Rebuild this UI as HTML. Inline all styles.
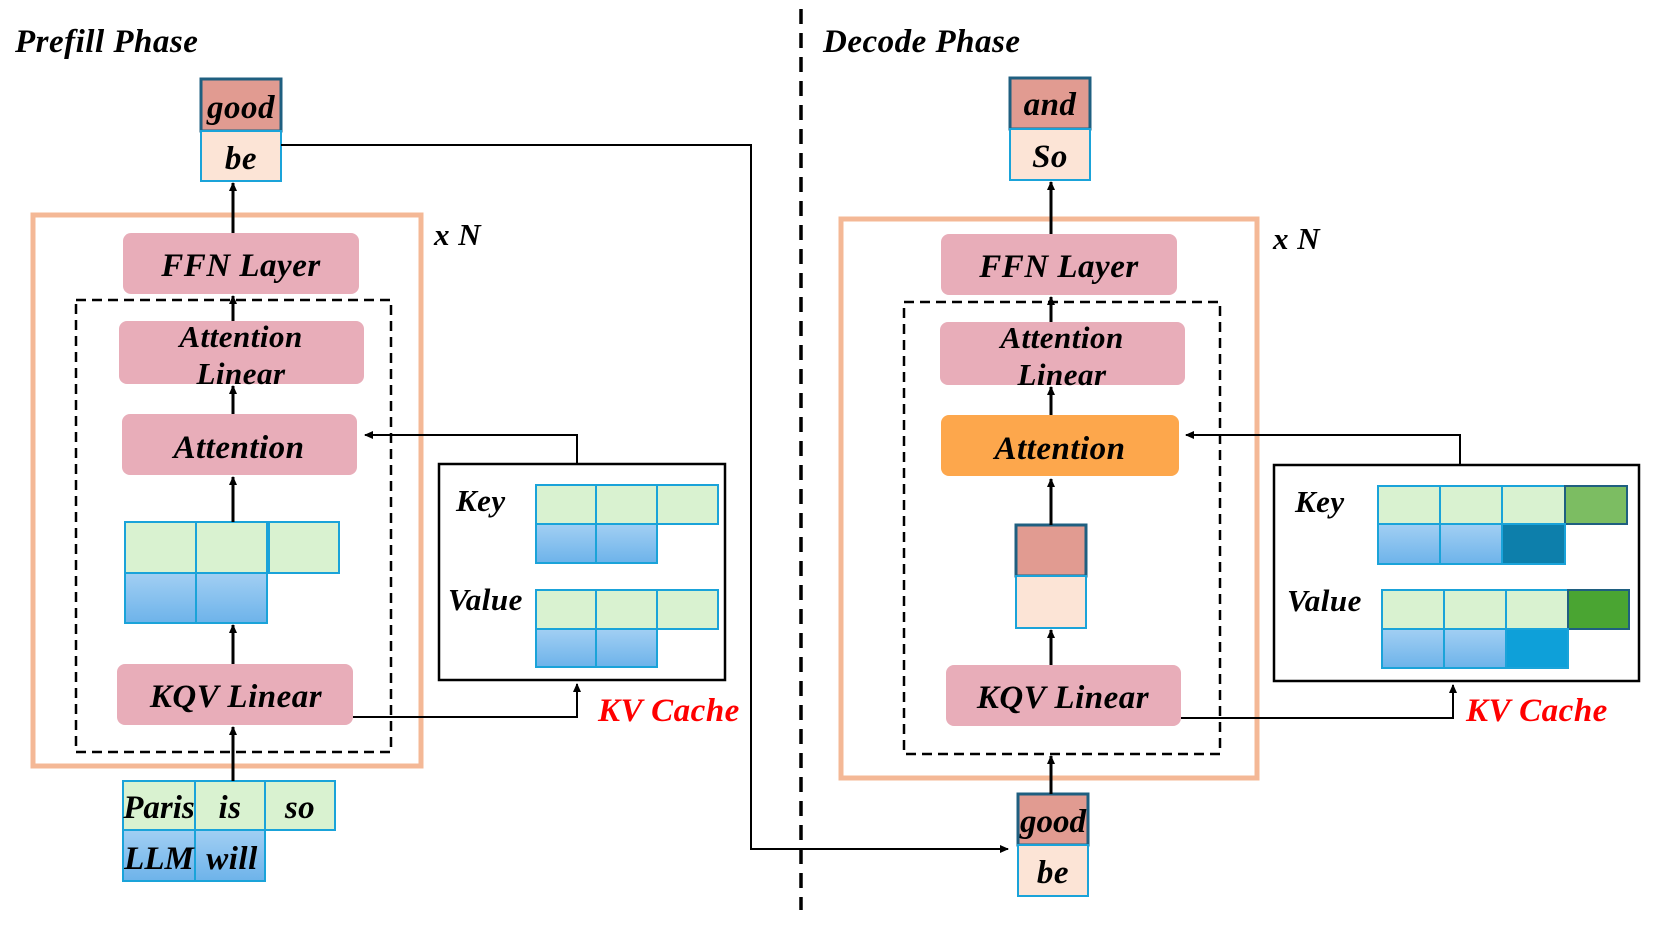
<!DOCTYPE html>
<html><head><meta charset="utf-8"><style>
html,body{margin:0;padding:0;background:#fff;}
svg{display:block;}
text{font-family:"Liberation Serif",serif;font-weight:bold;font-style:italic;fill:#000;letter-spacing:0.5px;}
</style></head><body>
<svg width="1661" height="934" viewBox="0 0 1661 934" xmlns="http://www.w3.org/2000/svg">
<defs>
<linearGradient id="bl" x1="0" y1="0" x2="0" y2="1"><stop offset="0" stop-color="#a2cff3"/><stop offset="1" stop-color="#6db3ea"/></linearGradient>
<marker id="ar" markerWidth="10" markerHeight="10" refX="8" refY="5" orient="auto" markerUnits="userSpaceOnUse"><path d="M0,1 L9,5 L0,9 Z" fill="#000"/></marker>
</defs>
<g stroke="#1aa3d9" stroke-width="2">
<rect x="201" y="79" width="80" height="52" fill="#e19b91" stroke="#1f5f80" stroke-width="3"/>
<rect x="201" y="131" width="80" height="50" fill="#fce4d6"/>
</g>
<text x="241" y="118" font-size="33" text-anchor="middle">good</text>
<text x="241" y="169" font-size="33" text-anchor="middle">be</text>
<text x="15" y="52" font-size="33">Prefill Phase</text>
<text x="823" y="52" font-size="33">Decode Phase</text>
<line x1="801" y1="9" x2="801" y2="910" stroke="#000" stroke-width="3.5" stroke-dasharray="15,9"/>

<!-- LEFT -->
<rect x="33" y="215" width="388" height="551" fill="none" stroke="#f4b896" stroke-width="5"/>
<text x="434" y="245" font-size="31">x N</text>
<rect x="76" y="300" width="315" height="452" fill="none" stroke="#000" stroke-width="2.5" stroke-dasharray="10,6"/>
<rect x="123" y="233" width="236" height="61" rx="8" fill="#e8adb9"/>
<text x="241" y="276" font-size="33" text-anchor="middle">FFN Layer</text>
<rect x="119" y="321" width="245" height="63" rx="8" fill="#e8adb9"/>
<text x="241" y="347" font-size="31" text-anchor="middle">Attention</text>
<text x="241" y="384" font-size="31" text-anchor="middle">Linear</text>
<rect x="122" y="414" width="235" height="61" rx="8" fill="#e8adb9"/>
<text x="239" y="458" font-size="33" text-anchor="middle">Attention</text>
<rect x="117" y="664" width="236" height="61" rx="8" fill="#e8adb9"/>
<text x="236" y="707" font-size="33" text-anchor="middle">KQV Linear</text>
<g stroke="#1aa3d9" stroke-width="2">
<rect x="125" y="522" width="71" height="51" fill="#d9f2d0"/>
<rect x="196" y="522" width="71" height="51" fill="#d9f2d0"/>
<rect x="269" y="522" width="70" height="51" fill="#d9f2d0"/>
<rect x="125" y="573" width="71" height="50" fill="url(#bl)"/>
<rect x="196" y="573" width="71" height="50" fill="url(#bl)"/>
<rect x="123" y="781" width="72" height="49" fill="#d9f2d0"/>
<rect x="195" y="781" width="70" height="49" fill="#d9f2d0"/>
<rect x="265" y="781" width="70" height="49" fill="#d9f2d0"/>
<rect x="123" y="830" width="72" height="51" fill="url(#bl)"/>
<rect x="195" y="830" width="70" height="51" fill="url(#bl)"/>
</g>
<text x="159" y="818" font-size="33" text-anchor="middle" style="letter-spacing:0">Paris</text>
<text x="230" y="818" font-size="33" text-anchor="middle">is</text>
<text x="300" y="818" font-size="33" text-anchor="middle">so</text>
<text x="159" y="869" font-size="33" text-anchor="middle" style="letter-spacing:0">LLM</text>
<text x="232" y="869" font-size="33" text-anchor="middle">will</text>
<g stroke="#000" stroke-width="3" fill="none" marker-end="url(#ar)">
<line x1="233" y1="781" x2="233" y2="727"/>
<line x1="233" y1="664" x2="233" y2="625"/>
<line x1="233" y1="522" x2="233" y2="477"/>
<line x1="233" y1="414" x2="233" y2="386"/>
<line x1="233" y1="321" x2="233" y2="296"/>
<line x1="233" y1="233" x2="233" y2="183"/>
</g>
<rect x="439" y="464" width="286" height="216" fill="none" stroke="#000" stroke-width="2.5"/>
<text x="456" y="511" font-size="31">Key</text>
<text x="448" y="610" font-size="31">Value</text>
<g stroke="#1aa3d9" stroke-width="2">
<rect x="536" y="485" width="60" height="39" fill="#d9f2d0"/>
<rect x="596" y="485" width="61" height="39" fill="#d9f2d0"/>
<rect x="657" y="485" width="61" height="39" fill="#d9f2d0"/>
<rect x="536" y="524" width="60" height="39" fill="url(#bl)"/>
<rect x="596" y="524" width="61" height="39" fill="url(#bl)"/>
<rect x="536" y="590" width="60" height="39" fill="#d9f2d0"/>
<rect x="596" y="590" width="61" height="39" fill="#d9f2d0"/>
<rect x="657" y="590" width="61" height="39" fill="#d9f2d0"/>
<rect x="536" y="629" width="60" height="38" fill="url(#bl)"/>
<rect x="596" y="629" width="61" height="38" fill="url(#bl)"/>
</g>
<g stroke="#000" stroke-width="2" fill="none" marker-end="url(#ar)">
<polyline points="577,464 577,435 365,435"/>
<polyline points="353,717 577,717 577,684"/>
<polyline points="281,145 751,145 751,849 1008,849"/>
</g>
<text x="598" y="721" font-size="33" style="fill:#ff0000">KV Cache</text>

<!-- RIGHT -->
<g stroke="#1aa3d9" stroke-width="2">
<rect x="1010" y="78" width="80" height="51" fill="#e19b91" stroke="#1f5f80" stroke-width="3"/>
<rect x="1010" y="129" width="80" height="51" fill="#fce4d6"/>
<rect x="1018" y="794" width="70" height="51" fill="#e19b91" stroke="#1f5f80" stroke-width="3"/>
<rect x="1018" y="845" width="70" height="51" fill="#fce4d6"/>
<rect x="1016" y="525" width="70" height="51" fill="#e19b91" stroke="#1f5f80" stroke-width="3"/>
<rect x="1016" y="576" width="70" height="52" fill="#fce4d6"/>
</g>
<text x="1050" y="115" font-size="33" text-anchor="middle">and</text>
<text x="1050" y="167" font-size="33" text-anchor="middle">So</text>
<text x="1053" y="832" font-size="33" text-anchor="middle" style="letter-spacing:0">good</text>
<text x="1053" y="883" font-size="33" text-anchor="middle">be</text>
<rect x="841" y="219" width="416" height="559" fill="none" stroke="#f4b896" stroke-width="5"/>
<text x="1273" y="249" font-size="31">x N</text>
<rect x="904" y="302" width="316" height="452" fill="none" stroke="#000" stroke-width="2.5" stroke-dasharray="10,6"/>
<rect x="941" y="234" width="236" height="61" rx="8" fill="#e8adb9"/>
<text x="1059" y="277" font-size="33" text-anchor="middle">FFN Layer</text>
<rect x="940" y="322" width="245" height="63" rx="8" fill="#e8adb9"/>
<text x="1062" y="348" font-size="31" text-anchor="middle">Attention</text>
<text x="1062" y="385" font-size="31" text-anchor="middle">Linear</text>
<rect x="941" y="415" width="238" height="61" rx="8" fill="#fda74c"/>
<text x="1060" y="459" font-size="33" text-anchor="middle">Attention</text>
<rect x="946" y="665" width="235" height="61" rx="8" fill="#e8adb9"/>
<text x="1063" y="708" font-size="33" text-anchor="middle">KQV Linear</text>
<g stroke="#000" stroke-width="3" fill="none" marker-end="url(#ar)">
<line x1="1051" y1="794" x2="1051" y2="756"/>
<line x1="1051" y1="665" x2="1051" y2="630"/>
<line x1="1051" y1="525" x2="1051" y2="479"/>
<line x1="1051" y1="415" x2="1051" y2="387"/>
<line x1="1051" y1="322" x2="1051" y2="297"/>
<line x1="1051" y1="234" x2="1051" y2="182"/>
</g>
<rect x="1274" y="465" width="365" height="216" fill="none" stroke="#000" stroke-width="2.5"/>
<text x="1295" y="512" font-size="31">Key</text>
<text x="1287" y="611" font-size="31">Value</text>
<g stroke="#1aa3d9" stroke-width="2">
<rect x="1378" y="486" width="62" height="38" fill="#d9f2d0"/>
<rect x="1440" y="486" width="62" height="38" fill="#d9f2d0"/>
<rect x="1502" y="486" width="63" height="38" fill="#d9f2d0"/>
<rect x="1565" y="486" width="62" height="38" fill="#7cbd62" stroke="#1f5f80"/>
<rect x="1378" y="524" width="62" height="40" fill="url(#bl)"/>
<rect x="1440" y="524" width="62" height="40" fill="url(#bl)"/>
<rect x="1502" y="524" width="63" height="40" fill="#0d7fab"/>
<rect x="1382" y="590" width="62" height="39" fill="#d9f2d0"/>
<rect x="1444" y="590" width="62" height="39" fill="#d9f2d0"/>
<rect x="1506" y="590" width="62" height="39" fill="#d9f2d0"/>
<rect x="1568" y="590" width="61" height="39" fill="#4aa532" stroke="#1f5f80"/>
<rect x="1382" y="629" width="62" height="39" fill="url(#bl)"/>
<rect x="1444" y="629" width="62" height="39" fill="url(#bl)"/>
<rect x="1506" y="629" width="62" height="39" fill="#0ea0d9"/>
</g>
<g stroke="#000" stroke-width="2" fill="none" marker-end="url(#ar)">
<polyline points="1460,465 1460,435 1186,435"/>
<polyline points="1181,718 1453,718 1453,685"/>
</g>
<text x="1466" y="721" font-size="33" style="fill:#ff0000">KV Cache</text>
</svg>
</body></html>
